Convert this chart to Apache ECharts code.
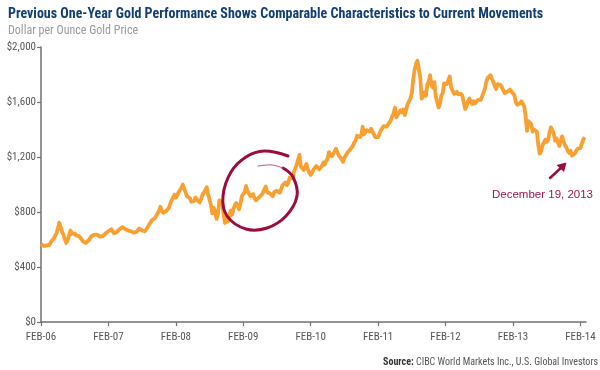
<!DOCTYPE html>
<html><head><meta charset="utf-8">
<script src="https://cdn.jsdelivr.net/npm/echarts@6/dist/echarts.min.js"></script>
<style>html,body{margin:0;padding:0;background:#fff}#c{width:600px;height:370px}</style>
</head><body><div id="c"></div><script>
// Weekly gold price readings (USD/oz), each array runs Feb of that year to Jan of next year
const gold2006 = [568,555,552,560, 558,545,560,582, 590,605,625,645, 680,722,690,655, 635,600,575,595, 630,665,640,635, 645,630,625,625, 615,600,585,595, 575,585,595,610, 625,625,635,645, 635,625,620,630, 625,635,645,655];
const gold2007 = [660,665,675,685, 645,650,655,665, 675,685,690,680, 675,680,665,655, 660,655,650,650, 655,665,680,675, 665,670,660,670, 690,710,725,740, 735,755,770,790, 805,838,810,795, 800,805,800,830, 860,885,890,925];
const gold2008 = [905,920,945,960, 975,1000,1012,940, 915,925,900,875, 870,880,905,890, 880,870,895,925, 930,960,980,925, 890,850,790,830, 800,750,785,885, 880,870,780,720, 750,730,760,810, 780,820,850,865, 860,820,860,915];
const gold2009 = [915,945,990,950, 935,915,925,930, 900,885,890,905, 905,925,940,965, 985,945,935,935, 925,915,945,955, 955,950,940,950, 995,1005,1015,995, 1010,1050,1060,1045, 1090,1115,1145,1180, 1215,1130,1120,1105, 1130,1150,1110,1085];
const gold2010 = [1070,1085,1110,1120, 1135,1125,1110,1115, 1135,1160,1145,1170, 1185,1235,1225,1205, 1220,1240,1260,1250, 1210,1200,1185,1165, 1195,1210,1230,1240, 1255,1260,1280,1305, 1320,1355,1365,1345, 1360,1420,1365,1375, 1395,1400,1385,1405, 1385,1365,1345,1335];
const gold2011 = [1345,1370,1395,1410, 1425,1430,1420,1435, 1445,1465,1495,1515, 1560,1490,1500,1525, 1540,1525,1545,1505, 1500,1585,1605,1625, 1665,1765,1835,1880, 1900,1835,1780,1625, 1645,1670,1645,1725, 1750,1795,1720,1705, 1745,1645,1600,1560, 1585,1645,1665,1735];
const gold2012 = [1745,1730,1760,1785, 1705,1700,1660,1670, 1675,1655,1645,1660, 1645,1595,1550,1570, 1605,1625,1605,1585, 1605,1590,1580,1615, 1605,1615,1625,1665, 1695,1745,1775,1770, 1795,1770,1745,1720, 1695,1730,1735,1725, 1710,1700,1665,1660, 1675,1670,1690,1675];
const gold2013 = [1670,1650,1600,1580, 1575,1590,1605,1600, 1570,1500,1390,1460, 1470,1440,1385,1400, 1395,1385,1290,1225, 1240,1285,1295,1325, 1310,1325,1375,1415, 1395,1370,1320,1335, 1310,1280,1320,1350, 1315,1285,1270,1245, 1230,1245,1210,1200, 1225,1245,1260,1255];
const gold2014 = [1265,1295,1325,1345];

const xTickLabels = ['FEB-06','FEB-07','FEB-08','FEB-09','FEB-10','FEB-11','FEB-12','FEB-13','FEB-14'];
const yTickValues = [0,400,800,1200,1600,2000];

const years = [gold2006,gold2007,gold2008,gold2009,gold2010,gold2011,gold2012,gold2013,gold2014];
const seriesData = [];
years.forEach((arr, k) => arr.forEach((v, i) => seriesData.push([k * 12 + i * 0.25, v])));

const NARROW = '"Liberation Sans Narrow", "Arial Narrow", "Roboto Condensed", "Liberation Sans", sans-serif';
const MAROON = '#9a0d3f';
const tickVals = xTickLabels.map((_, i) => i * 12);

const chart = echarts.init(document.getElementById('c'), null, {renderer: 'canvas'});
chart.setOption({
  animation: false,
  backgroundColor: '#fff',
  title: {
    text: 'Previous One-Year Gold Performance Shows Comparable Characteristics to Current Movements',
    subtext: 'Dollar per Ounce Gold Price',
    left: 3, top: 2, itemGap: 4,
    textStyle: {fontFamily: NARROW, fontSize: 14, fontWeight: 'bold', color: '#123f73'},
    subtextStyle: {fontFamily: NARROW, fontSize: 12, color: '#9a9a9a'}
  },
  grid: {left: 41, right: 14, top: 47, bottom: 48, containLabel: false},
  xAxis: {
    type: 'value', min: 0, max: 97, interval: 12,
    splitLine: {show: false},
    axisLine: {lineStyle: {color: '#707070', width: 1.5}},
    axisTick: {show: true, length: 4, lineStyle: {color: '#707070', width: 1.2}, customValues: tickVals},
    axisLabel: {
      customValues: tickVals,
      margin: 10, fontFamily: NARROW, fontSize: 11, color: '#555',
      formatter: v => (v % 12 === 0 && xTickLabels[v / 12]) ? xTickLabels[v / 12] : ''
    }
  },
  yAxis: {
    type: 'value', min: yTickValues[0], max: yTickValues[yTickValues.length - 1], interval: 400,
    splitLine: {show: false},
    axisLine: {show: true, lineStyle: {color: '#707070', width: 1.5}},
    axisTick: {show: true, length: 4, lineStyle: {color: '#707070', width: 1.2}},
    axisLabel: {
      margin: 5, fontFamily: NARROW, fontSize: 11, color: '#555',
      formatter: v => '$' + v.toLocaleString('en-US')
    }
  },
  series: [{
    type: 'line', data: seriesData, showSymbol: false, smooth: false,
    lineStyle: {color: '#f8a032', width: 3.8, join: 'round'},
    silent: true
  }],
  graphic: [
    {type: 'polyline', silent: true, z: 10,
     shape: {smooth: 0.4, points: [[288,156],[264,151],[246,157],[231,172],[223,196],[227,216],[246,229],[267,228],[286,216],[297,196],[293,177],[283,168]]},
     style: {stroke: MAROON, lineWidth: 3, fill: null, lineCap: 'round'}},
    {type: 'polyline', silent: true, z: 10,
     shape: {smooth: 0.4, points: [[283,168],[272,165],[258,166]]},
     style: {stroke: '#c05078', lineWidth: 1, fill: null, lineCap: 'round'}},
    {type: 'line', silent: true, z: 10,
     shape: {x1: 550, y1: 178, x2: 563, y2: 166},
     style: {stroke: MAROON, lineWidth: 2.5, lineCap: 'round'}},
    {type: 'polygon', silent: true, z: 10,
     shape: {points: [[566.5,162.5],[556.5,165],[564,172]]},
     style: {fill: MAROON}},
    {type: 'text', silent: true, z: 10,
     style: {text: 'December 19, 2013', x: 593, y: 195, align: 'right', verticalAlign: 'middle',
             font: '11.5px "Liberation Sans", sans-serif', fill: '#a4134d'}},
    {type: 'text', silent: true, z: 10,
     style: {text: '{b|Source:} CIBC World Markets Inc., U.S. Global Investors', x: 598, y: 362,
             align: 'right', verticalAlign: 'middle',
             rich: {b: {fontWeight: 'bold', fontFamily: NARROW, fontSize: 10, fill: '#333'}},
             font: '10px ' + NARROW, fill: '#555'}}
  ]
});
</script></body></html>
